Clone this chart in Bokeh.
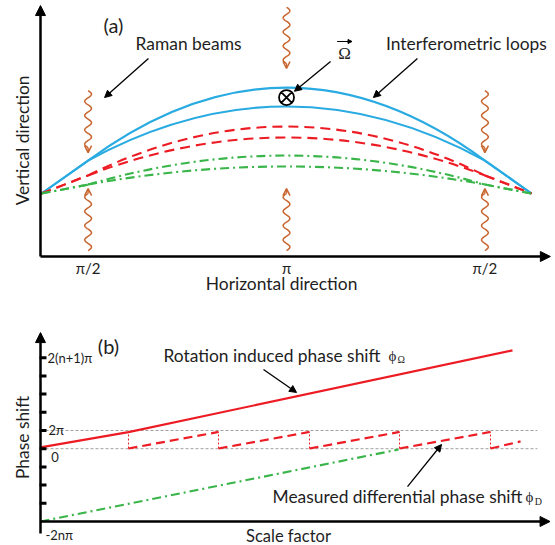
import numpy as np
from bokeh.plotting import figure
from bokeh.layouts import column
from bokeh.models import Range1d, Arrow, NormalHead, OpenHead
from bokeh.core.properties import value
from bokeh.embed import file_html
from bokeh.resources import INLINE

FONT = "Lato"
TXT = "#1e1e1e"
ORANGE = "#c8652e"
BLUE = "#29abe2"
RED = "#ed1c24"
GREEN = "#39b54a"

# ---------------- panel (a) data ----------------
pulse_x = [1, 2, 3]
pulse_labels = ["π/2", "π", "π/2"]
loop_start = (0.765, 2.54)
loop_end = (3.235, 2.54)
loop_colors = [BLUE, BLUE, RED, RED, GREEN, GREEN]
loop_dash = ["solid", "solid", "10 6", "10 6", "9 4 2 4", "9 4 2 4"]
loop_node_y = [3.87, 3.87, 3.27, 3.27, 2.90, 2.90]
loop_peak_y = [6.81, 6.05, 5.24, 4.80, 4.07, 3.63]
beam_x = [1, 1, 2, 2, 3, 3]
beam_from = [6.69, 0.24, 10.05, 0.24, 6.69, 0.24]
beam_to = [4.19, 2.74, 7.58, 2.74, 4.19, 2.74]

# ---------------- panel (b) data ----------------
tick_levels = [1, 2, 3, 4, 5, 6, 7, 8, 9]
tick_label_text = ["2(n+1)π", "2π", "0", "-2nπ"]
level_lines = [4, 5]
phi_omega_x = [0, 0.972, 5.215]
phi_omega_y = [4.07, 4.91, 9.40]
wrap_x = [0.972, 1.967, 2.972, 3.967, 4.972]
wrap_top = [4.94, 4.92, 4.92, 4.92, 4.92]
wrap_bottom = [4.01, 4.01, 4.01, 4.01, 4.01]
phi_d_x0 = [0.972, 1.967, 2.972, 3.967, 4.972]
phi_d_x1 = [1.967, 2.972, 3.967, 4.972, 5.304]
phi_d_y0 = [4.01, 4.01, 4.01, 4.01, 4.01]
phi_d_y1 = [4.92, 4.92, 4.92, 4.92, 4.40]
offset_x = [0, 3.956]
offset_y = [0, 3.956]


def make_fig(w, h, xr, yr):
    p = figure(width=w, height=h, x_range=Range1d(*xr), y_range=Range1d(*yr),
               output_backend="svg", toolbar_location=None, min_border=0)
    p.axis.visible = False
    p.grid.visible = False
    p.outline_line_color = None
    p.background_fill_color = "white"
    p.border_fill_color = "white"
    return p


def axis_arrow(p, xs, ys, xe, ye):
    p.add_layout(Arrow(end=NormalHead(size=10, fill_color="black", line_color="black"),
                       x_start=xs, y_start=ys, x_end=xe, y_end=ye,
                       line_color="black", line_width=2.5))


def pointer(p, xs, ys, xe, ye):
    p.add_layout(Arrow(end=NormalHead(size=7, fill_color="black", line_color="black", line_width=1),
                       x_start=xs, y_start=ys, x_end=xe, y_end=ye,
                       line_color="black", line_width=1.3))


def txt(p, x, y, t, size="17.4px", align="center", font=FONT, angle=0.0):
    p.text(x=x, y=y, text=t, text_font=value(font), text_font_size=size, angle=angle,
           text_align=align, text_baseline="middle", text_color=TXT)


# ================= panel (a) =================
p1 = make_fig(551, 300, (0.5584, 3.3356), (-1.774, 10.323))

for i in range(len(loop_colors)):
    kw = dict(line_color=loop_colors[i], line_width=2.1, line_dash=loop_dash[i])
    n = loop_node_y[i]
    p1.segment(x0=[loop_start[0]], y0=[loop_start[1]], x1=[pulse_x[0]], y1=[n], **kw)
    p1.quadratic(x0=[pulse_x[0]], y0=[n], x1=[pulse_x[2]], y1=[n],
                 cx=[pulse_x[1]], cy=[2 * loop_peak_y[i] - n], **kw)
    p1.segment(x0=[pulse_x[2]], y0=[n], x1=[loop_end[0]], y1=[loop_end[1]], **kw)

# Raman beams (wavy arrows)
amp = 0.017
for bx, yf, yt in zip(beam_x, beam_from, beam_to):
    d = np.sign(yt - yf)
    y_end = yt - d * 0.2
    L = abs(y_end - yf)
    nhalf = max(1, int(round(L / 0.28)))
    wl = 2 * L / nhalf
    ys = np.linspace(yf, y_end, 120)
    xs = bx + amp * np.sin(2 * np.pi * np.abs(ys - yf) / wl)
    p1.line(xs, ys, line_color=ORANGE, line_width=1.5)
    p1.add_layout(Arrow(end=OpenHead(size=7, line_color=ORANGE, line_width=1.5),
                        x_start=bx, y_start=y_end, x_end=bx, y_end=yt,
                        line_color=ORANGE, line_width=1.5))

axis_arrow(p1, 0.76, 0, 0.76, 10.12)
axis_arrow(p1, 0.76, 0, 3.33, 0)

txt(p1, pulse_x, [-0.47] * 3, pulse_labels, size="15px")
txt(p1, [1.975], [-1.09], ["Horizontal direction"])
txt(p1, [0.669], [4.68], ["Vertical direction"], angle=np.pi / 2)

# rotation vector symbol
p1.scatter(x=[2.0], y=[6.41], marker="circle_x", size=15, fill_color=None,
           line_color="black", line_width=1.8)
txt(p1, [2.292], [8.2], ["Ω"], size="17px", font="Liberation Serif")
p1.add_layout(Arrow(end=NormalHead(size=4, fill_color="black", line_color="black", line_width=1),
                    x_start=2.255, y_start=8.67, x_end=2.33, y_end=8.67,
                    line_color="black", line_width=1))

txt(p1, [1.128], [9.35], ["(a)"], size="20px")
txt(p1, [1.506, 2.907], [8.59, 8.59], ["Raman beams", "Interferometric loops"])
pointer(p1, 1.304, 7.98, 1.083, 6.41)
pointer(p1, 2.660, 7.98, 2.438, 6.41)
pointer(p1, 2.222, 7.86, 2.04, 6.66)

# ================= panel (b) =================
p2 = make_fig(551, 245, (-0.442, 5.646), (-1.319, 12.143))

for lv in level_lines:
    p2.line(x=[0, 5.49], y=[lv, lv], line_color="#a0a0a0", line_width=1, line_dash="3 2")

p2.line(x=offset_x, y=offset_y, line_color=GREEN, line_width=2.2, line_dash="9 4 2 4")
p2.line(x=phi_omega_x, y=phi_omega_y, line_color=RED, line_width=2.2)
p2.segment(x0=wrap_x, y0=wrap_bottom, x1=wrap_x, y1=wrap_top, line_color=RED,
           line_width=1, line_dash="2 2")
p2.segment(x0=phi_d_x0, y0=phi_d_y0, x1=phi_d_x1, y1=phi_d_y1, line_color=RED,
           line_width=2.2, line_dash="9 5")

# axes with tick marks
p2.segment(x0=[-0.01] * len(tick_levels), y0=tick_levels, x1=[0.066] * len(tick_levels),
           y1=tick_levels, line_color="black", line_width=3)
axis_arrow(p2, 0, -0.66, 0, 10.38)
axis_arrow(p2, 0, 0, 5.63, 0)

txt(p2, [0.077, 0.088, 0.12, 0.055], [9.01, 5.0, 3.52, -0.74], tick_label_text,
    size="13px", align="left")
txt(p2, [0.751], [9.67], ["(b)"], size="20px")
txt(p2, [1.359, 2.564], [9.12, 1.37],
    ["Rotation induced phase shift", "Measured differential phase shift"], align="left")
txt(p2, [3.845, 5.36], [9.12, 1.37], ["ϕ", "ϕ"], size="15px", align="left",
    font="Liberation Serif")
txt(p2, [3.945, 5.46], [8.9, 1.12], ["Ω", "D"], size="10px", align="left",
    font="Liberation Serif")
txt(p2, [2.74], [-0.8], ["Scale factor"], size="16.5px")
txt(p2, [-0.199], [4.62], ["Phase shift"], angle=np.pi / 2)
pointer(p2, 2.464, 8.35, 2.829, 7.09)
pointer(p2, 4.055, 1.92, 4.431, 4.23)

layout = column(p1, p2, spacing=0)
open("out.html", "w").write(file_html(layout, INLINE))
